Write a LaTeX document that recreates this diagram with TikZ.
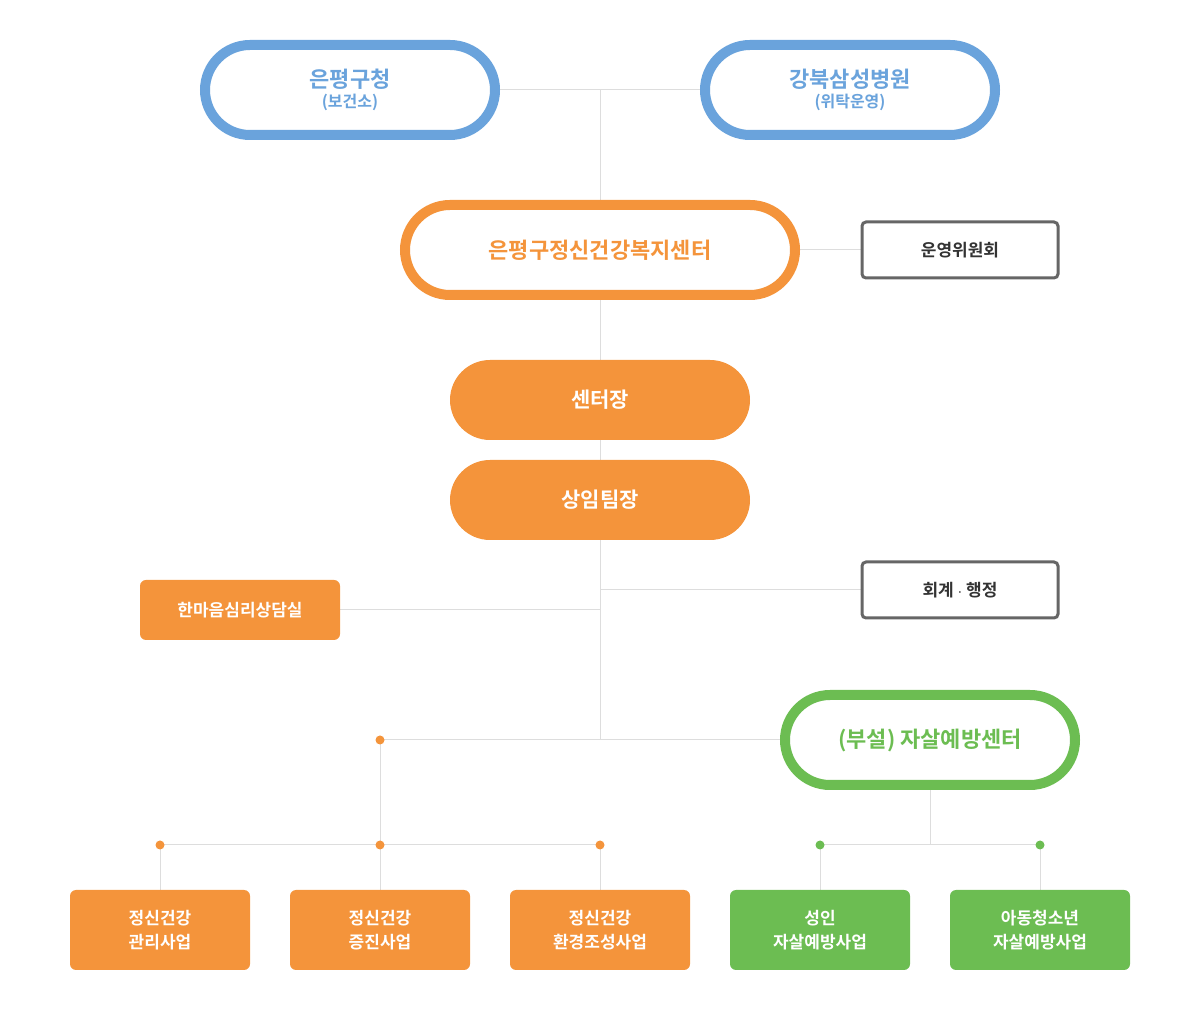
\documentclass[tikz,border=0pt]{standalone}
\usepackage{fontspec}
\setmainfont{Noto Sans CJK KR}[BoldFont={Noto Sans CJK KR Bold}]
\usetikzlibrary{positioning}
\definecolor{cblue}{HTML}{6AA3DC}
\definecolor{corange}{HTML}{F4943B}
\definecolor{cgreen}{HTML}{6CBD52}
\definecolor{cgray}{HTML}{666666}
\definecolor{cline}{HTML}{DDDDDD}
\tikzset{
  ring/.style={draw=#1, line width=5pt, fill=white, rounded corners=22.5pt,
    minimum width=145pt, minimum height=45pt, text=#1, font=\bfseries\fontsize{11}{13}\selectfont, align=center},
  pill/.style={fill=corange, rounded corners=20pt, minimum width=150pt, minimum height=40pt,
    text=white, font=\bfseries\fontsize{10.5}{12}\selectfont},
  frame/.style={draw=cgray, line width=1.5pt, fill=white, rounded corners=2pt,
    minimum width=98pt, minimum height=28pt, text=black!80, font=\bfseries\fontsize{8.5}{10}\selectfont},
  task/.style={fill=#1, rounded corners=3pt, minimum width=90pt, minimum height=40pt,
    text=white, align=center, font=\bfseries\fontsize{8.5}{12}\selectfont},
  link/.style={draw=cline, line width=0.5pt},
  dot/.style={circle, fill=#1, inner sep=0pt, minimum size=4.5pt},
}
\begin{document}
\begin{tikzpicture}[x=0.5pt, y=-0.5pt]
  \useasboundingbox (0,0) rectangle (1200,1020);

  % junction points
  \coordinate (top) at (600,90);
  \coordinate (j1) at (600,610);
  \coordinate (j2) at (600,590);
  \coordinate (j3) at (600,740);
  \coordinate (g1) at (930,845);

  % lines first
  \draw[link] (350,90) -- (850,90);
  \draw[link] (top) -- (600,250);
  \draw[link] (600,250) -- (960,250);
  \draw[link] (600,250) -- (600,740);
  \draw[link] (240,610) -- (j1);
  \draw[link] (j2) -- (960,590);
  \draw[link] (380,740) -- (930,740);
  \draw[link] (380,740) -- (380,845);
  \draw[link] (160,845) -- (600,845);
  \foreach \x in {160,380,600} \draw[link] (\x,845) -- (\x,930);
  \draw[link] (930,740) -- (g1);
  \draw[link] (820,845) -- (1040,845);
  \foreach \x in {820,1040} \draw[link] (\x,845) -- (\x,930);

  % nodes
  \node[ring=cblue] (gu) at (350,90) {은평구청\\[-3pt]{\fontsize{8}{9}\selectfont (보건소)}};
  \node[ring=cblue] (hosp) at (850,90) {강북삼성병원\\[-3pt]{\fontsize{8}{9}\selectfont (위탁운영)}};
  \node[ring=corange, minimum width=195pt] (center) at (600,250) {은평구정신건강복지센터};
  \node[frame] (board) at (960,250) {운영위원회};
  \node[pill] (head) at (600,400) {센터장};
  \node[pill] (lead) at (600,500) {상임팀장};
  \node[task=corange, minimum width=100pt, minimum height=30pt] (counsel) at (240,610) {한마음심리상담실};
  \node[frame] (admin) at (960,590) {회계 $\cdot$ 행정};
  \node[ring=cgreen] (suicide) at (930,740) {(부설) 자살예방센터};

  \node[task=corange] (t1) at (160,930) {정신건강\\관리사업};
  \node[task=corange] (t2) at (380,930) {정신건강\\증진사업};
  \node[task=corange] (t3) at (600,930) {정신건강\\환경조성사업};
  \node[task=cgreen] (t4) at (820,930) {성인\\자살예방사업};
  \node[task=cgreen] (t5) at (1040,930) {아동청소년\\자살예방사업};

  % dots
  \node[dot=corange] (d0) at (380,740) {};
  \foreach \x in {160,380,600} \node[dot=corange] at (\x,845) {};
  \foreach \x in {820,1040} \node[dot=cgreen] at (\x,845) {};
\end{tikzpicture}
\end{document}
